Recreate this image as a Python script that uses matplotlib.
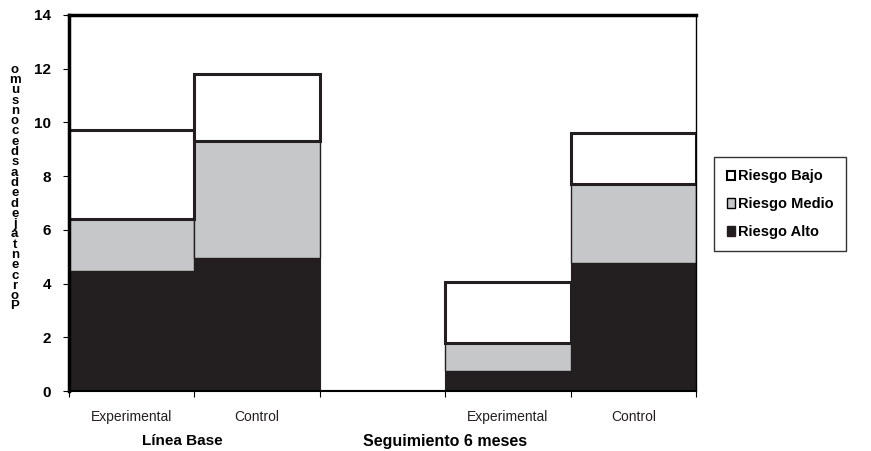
import numpy as np
import matplotlib.pyplot as plt
from matplotlib.patches import Patch

plt.rcParams["font.family"] = ["Liberation Sans", "DejaVu Sans"]

# slots: Linea Base (Exp, Ctrl), gap, Seguimiento (Exp, Ctrl)
slot_labels = ["Experimental", "Control", "", "Experimental", "Control"]
alto = [4.45, 4.95, 0.0, 0.75, 4.75]
medio = [1.95, 4.35, 0.0, 1.05, 2.95]
bajo = [3.3, 2.5, 0.0, 2.25, 1.9]
group_labels = ["Línea Base", "Seguimiento 6 meses"]
ylabel = "Porcentaje de das de consumo"

fig = plt.figure(figsize=(8.71, 4.51), dpi=100)
ax = fig.add_axes([0.0792, 0.133, 0.72, 0.834])

x = np.arange(len(slot_labels))
alto = np.array(alto)
medio = np.array(medio)
bajo = np.array(bajo)

ax.bar(x, alto, width=1.0, color="#231f20", edgecolor="#231f20", lw=0.8,
       label="Riesgo Alto")
ax.bar(x, medio, width=1.0, bottom=alto, color="#c6c7c9", edgecolor="#231f20",
       lw=1.0, label="Riesgo Medio")
ax.bar(x, bajo, width=1.0, bottom=alto + medio, color="white",
       edgecolor="#231f20", lw=2.2, label="Riesgo Bajo")

ax.set_xlim(-0.5, 4.5)
ax.set_ylim(0, 14)
ax.set_yticks(range(0, 15, 2))
ax.tick_params(axis="y", labelsize=11, length=4, direction="out", width=0.8,
               pad=9)
for t in ax.get_yticklabels():
    t.set_fontweight("bold")

ax.set_xticks(x)
ax.set_xticklabels(slot_labels, fontsize=10, color="#231f20")
ax.tick_params(axis="x", length=0, pad=14)
ax.set_xticks(np.arange(-0.5, 5.0, 1.0), minor=True)
ax.tick_params(axis="x", which="minor", length=4, width=0.8, direction="out")

ax.spines["top"].set_linewidth(2.5)
ax.spines["left"].set_linewidth(2.5)
ax.spines["right"].set_linewidth(1.0)
ax.spines["bottom"].set_linewidth(1.5)

ax.text(0.181, -0.133, group_labels[0], transform=ax.transAxes, ha="center",
        va="center", fontsize=11, fontweight="bold")
ax.text(0.599, -0.133, group_labels[1], transform=ax.transAxes, ha="center",
        va="center", fontsize=11.5, fontweight="bold")

# stacked, reversed axis title
stacked = "\n".join(ylabel.replace(" ", "")[::-1])
fig.text(0.017, 0.583, stacked, ha="center", va="center", fontsize=9.5,
         fontweight="bold", linespacing=0.81)

handles = [Patch(facecolor="white", edgecolor="black", lw=1.5, label="Riesgo Bajo"),
           Patch(facecolor="#c6c7c9", edgecolor="black", lw=1.0, label="Riesgo Medio"),
           Patch(facecolor="#231f20", edgecolor="#231f20", label="Riesgo Alto")]
leg = fig.legend(handles=handles, loc="upper left", bbox_to_anchor=(0.82, 0.652),
                 frameon=True, fancybox=False, edgecolor="black",
                 prop={"weight": "bold", "size": 10.5}, handlelength=0.6,
                 handleheight=0.6, handletextpad=0.2, labelspacing=0.95,
                 borderpad=0.85, borderaxespad=0)
leg.get_frame().set_linewidth(1.0)

fig.savefig("out.png", dpi=100)
